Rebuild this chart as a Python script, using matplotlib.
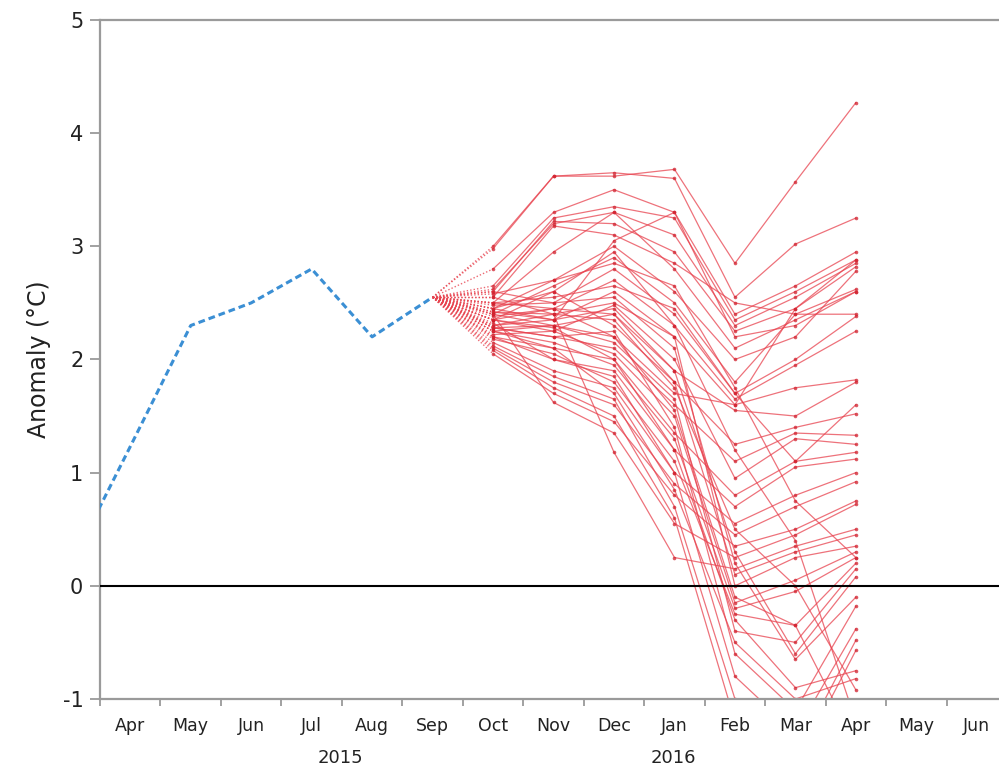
import numpy as np
import matplotlib
matplotlib.use('Agg')
import matplotlib.pyplot as plt

plt.rcParams['axes.unicode_minus'] = False

# ── DATA ───────────────────────────────────────
# month index: Mar 2015 = 0 ... Jun 2016 = 15
month_labels = ['Apr', 'May', 'Jun', 'Jul', 'Aug', 'Sep', 'Oct', 'Nov',
                'Dec', 'Jan', 'Feb', 'Mar', 'Apr', 'May', 'Jun']
month_pos = list(range(1, 16))

obs_x    = [0, 1, 2, 3, 4, 5, 6]
obs_vals = [0.17, 1.23, 2.30, 2.50, 2.80, 2.20, 2.55]

fc_x = [7, 8, 9, 10, 11, 12, 13]   # Oct 2015 .. Apr 2016
fc_oct = [3.00, 2.98, 2.80, 2.65, 2.62, 2.60, 2.55, 2.50, 2.45, 2.40, 2.48, 2.35, 2.30, 2.42, 2.25,
          2.38, 2.28, 2.22, 2.20, 2.32, 2.15, 2.10, 2.05, 2.40, 2.55, 2.45, 2.30, 2.35, 2.25, 2.18,
          2.40, 2.50, 2.60, 2.28, 2.20, 2.12, 2.08, 2.35, 2.25, 2.42, 2.50, 2.58, 2.35, 2.28, 2.45]
fc_nov = [3.62, 3.62, 3.30, 3.25, 3.20, 3.22, 3.18, 2.95, 2.70, 2.65, 2.50, 2.45, 2.40, 2.35, 2.30,
          2.45, 2.20, 2.25, 2.10, 2.00, 1.90, 1.80, 1.70, 1.62, 2.40, 2.60, 2.35, 2.25, 2.15, 2.05,
          2.30, 2.45, 2.50, 2.20, 2.00, 1.85, 1.75, 2.28, 2.10, 2.40, 2.55, 2.70, 2.60, 2.30, 2.35]
fc_dec = [3.62, 3.65, 3.50, 3.35, 3.30, 3.20, 3.10, 3.30, 3.00, 2.90, 2.80, 2.70, 2.50, 2.45, 2.40,
          2.20, 2.10, 2.48, 2.00, 1.90, 1.75, 1.60, 1.45, 1.35, 1.18, 2.30, 2.60, 2.05, 1.95, 1.80,
          2.15, 2.40, 2.55, 2.25, 1.85, 1.65, 1.50, 2.00, 1.70, 2.35, 2.65, 2.85, 2.95, 2.20, 3.05]
fc_jan = [3.68, 3.60, 3.30, 3.25, 3.10, 2.95, 2.85, 2.80, 2.60, 2.50, 2.40, 2.30, 2.20, 1.90, 1.80,
          1.70, 1.60, 2.00, 1.35, 1.20, 1.00, 0.90, 0.80, 0.55, 0.25, 1.80, 2.20, 1.50, 1.30, 1.10,
          1.65, 1.90, 2.10, 1.40, 1.00, 0.70, 0.60, 1.20, 0.85, 1.75, 2.45, 2.65, 2.30, 1.55, 3.30]
fc_feb = [2.85, 2.55, 2.40, 2.35, 2.30, 2.25, 2.50, 2.10, 2.00, 1.80, 1.70, 1.65, 1.60, 1.55, 1.25,
          1.60, 1.10, 0.95, 0.80, 0.70, 0.55, 0.45, 0.35, 0.25, 0.15, 0.10, 0.00, -0.15, -0.20, -0.25,
          -0.40, 0.30, 0.20, -0.60, -0.80, -1.00, -1.20, -0.30, -0.50, 0.50, 1.70, 1.75, 1.20, -0.10, 2.20]
fc_mar = [3.57, 3.02, 2.65, 2.60, 2.55, 2.45, 2.40, 2.35, 2.20, 2.40, 2.00, 1.95, 1.75, 1.50, 1.40,
          2.45, 1.35, 1.30, 1.10, 1.05, 0.80, 0.70, 0.50, 0.45, 0.35, 0.30, 0.25, 0.05, -0.05, -0.35,
          -0.50, -0.60, -0.65, -1.10, -1.30, -1.50, -1.60, -0.90, -1.00, 0.00, 1.10, 0.75, 0.40, -0.35, 2.30]
fc_apr = [4.27, 3.25, 2.95, 2.88, 2.85, 2.82, 2.62, 2.60, 2.78, 2.40, 2.38, 2.25, 1.82, 1.80, 1.52,
          2.88, 1.33, 1.25, 1.18, 1.12, 1.00, 0.92, 0.75, 0.72, 0.50, 0.45, 0.35, 0.30, 0.25, 0.20,
          0.15, 0.08, -0.10, -0.18, -0.38, -0.48, -0.57, -0.75, -0.82, -0.92, 1.60, 0.25, -1.20, -1.40, 2.60]

year_labels = ['2015', '2016']
year_pos    = [4.47, 9.98]

# ── STYLE ──────────────────────────────────────
RED    = '#e8434f'
DOT    = '#d01f2c'
BLUE   = '#3b8fd4'
FRAME  = '#9a9a9a'
TXT    = '#222222'

fig = plt.figure(figsize=(9.99, 7.77), dpi=100, facecolor='white')
ax = fig.add_axes([0.1001, 0.1004, 0.908, 0.8739])

members = np.vstack([fc_oct, fc_nov, fc_dec, fc_jan, fc_feb, fc_mar, fc_apr]).T

# ── FORECAST PLUME ─────────────────────────────
for m in members:
    ax.plot([obs_x[-1], fc_x[0]], [obs_vals[-1], m[0]], color=RED,
            lw=1.0, ls=(0, (1, 1.5)), alpha=0.8, zorder=2)
    ax.plot(fc_x, m, color=RED, lw=0.9, alpha=0.75, zorder=2,
            marker='o', ms=2.6, mfc=DOT, mec=DOT, mew=0)

# ── OBSERVED ───────────────────────────────────
ax.plot(obs_x, obs_vals, color=BLUE, lw=2.2, ls=(0, (2.2, 1.3)), zorder=3)

ax.axhline(0, color='black', lw=1.5, zorder=4)

# ── AXES ───────────────────────────────────────
ax.set_xlim(0.5, 15.5)
ax.set_ylim(-1, 5)

for side in ['left', 'top', 'bottom', 'right']:
    ax.spines[side].set_color(FRAME)
    ax.spines[side].set_linewidth(1.6)

ax.set_yticks(range(-1, 6))
ax.tick_params(axis='y', length=7, width=1.3, color=FRAME, pad=5,
               labelsize=15, labelcolor=TXT)

ax.set_xticks(month_pos)
ax.set_xticklabels(month_labels)
ax.set_xticks(np.arange(0.5, 15.6, 1.0), minor=True)
ax.tick_params(axis='x', which='major', length=0, pad=13,
               labelsize=12.5, labelcolor=TXT)
ax.tick_params(axis='x', which='minor', length=5, width=1.3, color=FRAME)

for lbl, xp in zip(year_labels, year_pos):
    ax.text(xp, -0.087, lbl, transform=ax.get_xaxis_transform(),
            ha='center', va='center', fontsize=13, color=TXT)

ax.set_ylabel('Anomaly (°C)', fontsize=17, color=TXT, labelpad=8)

fig.savefig('out.png', dpi=100, facecolor='white')
